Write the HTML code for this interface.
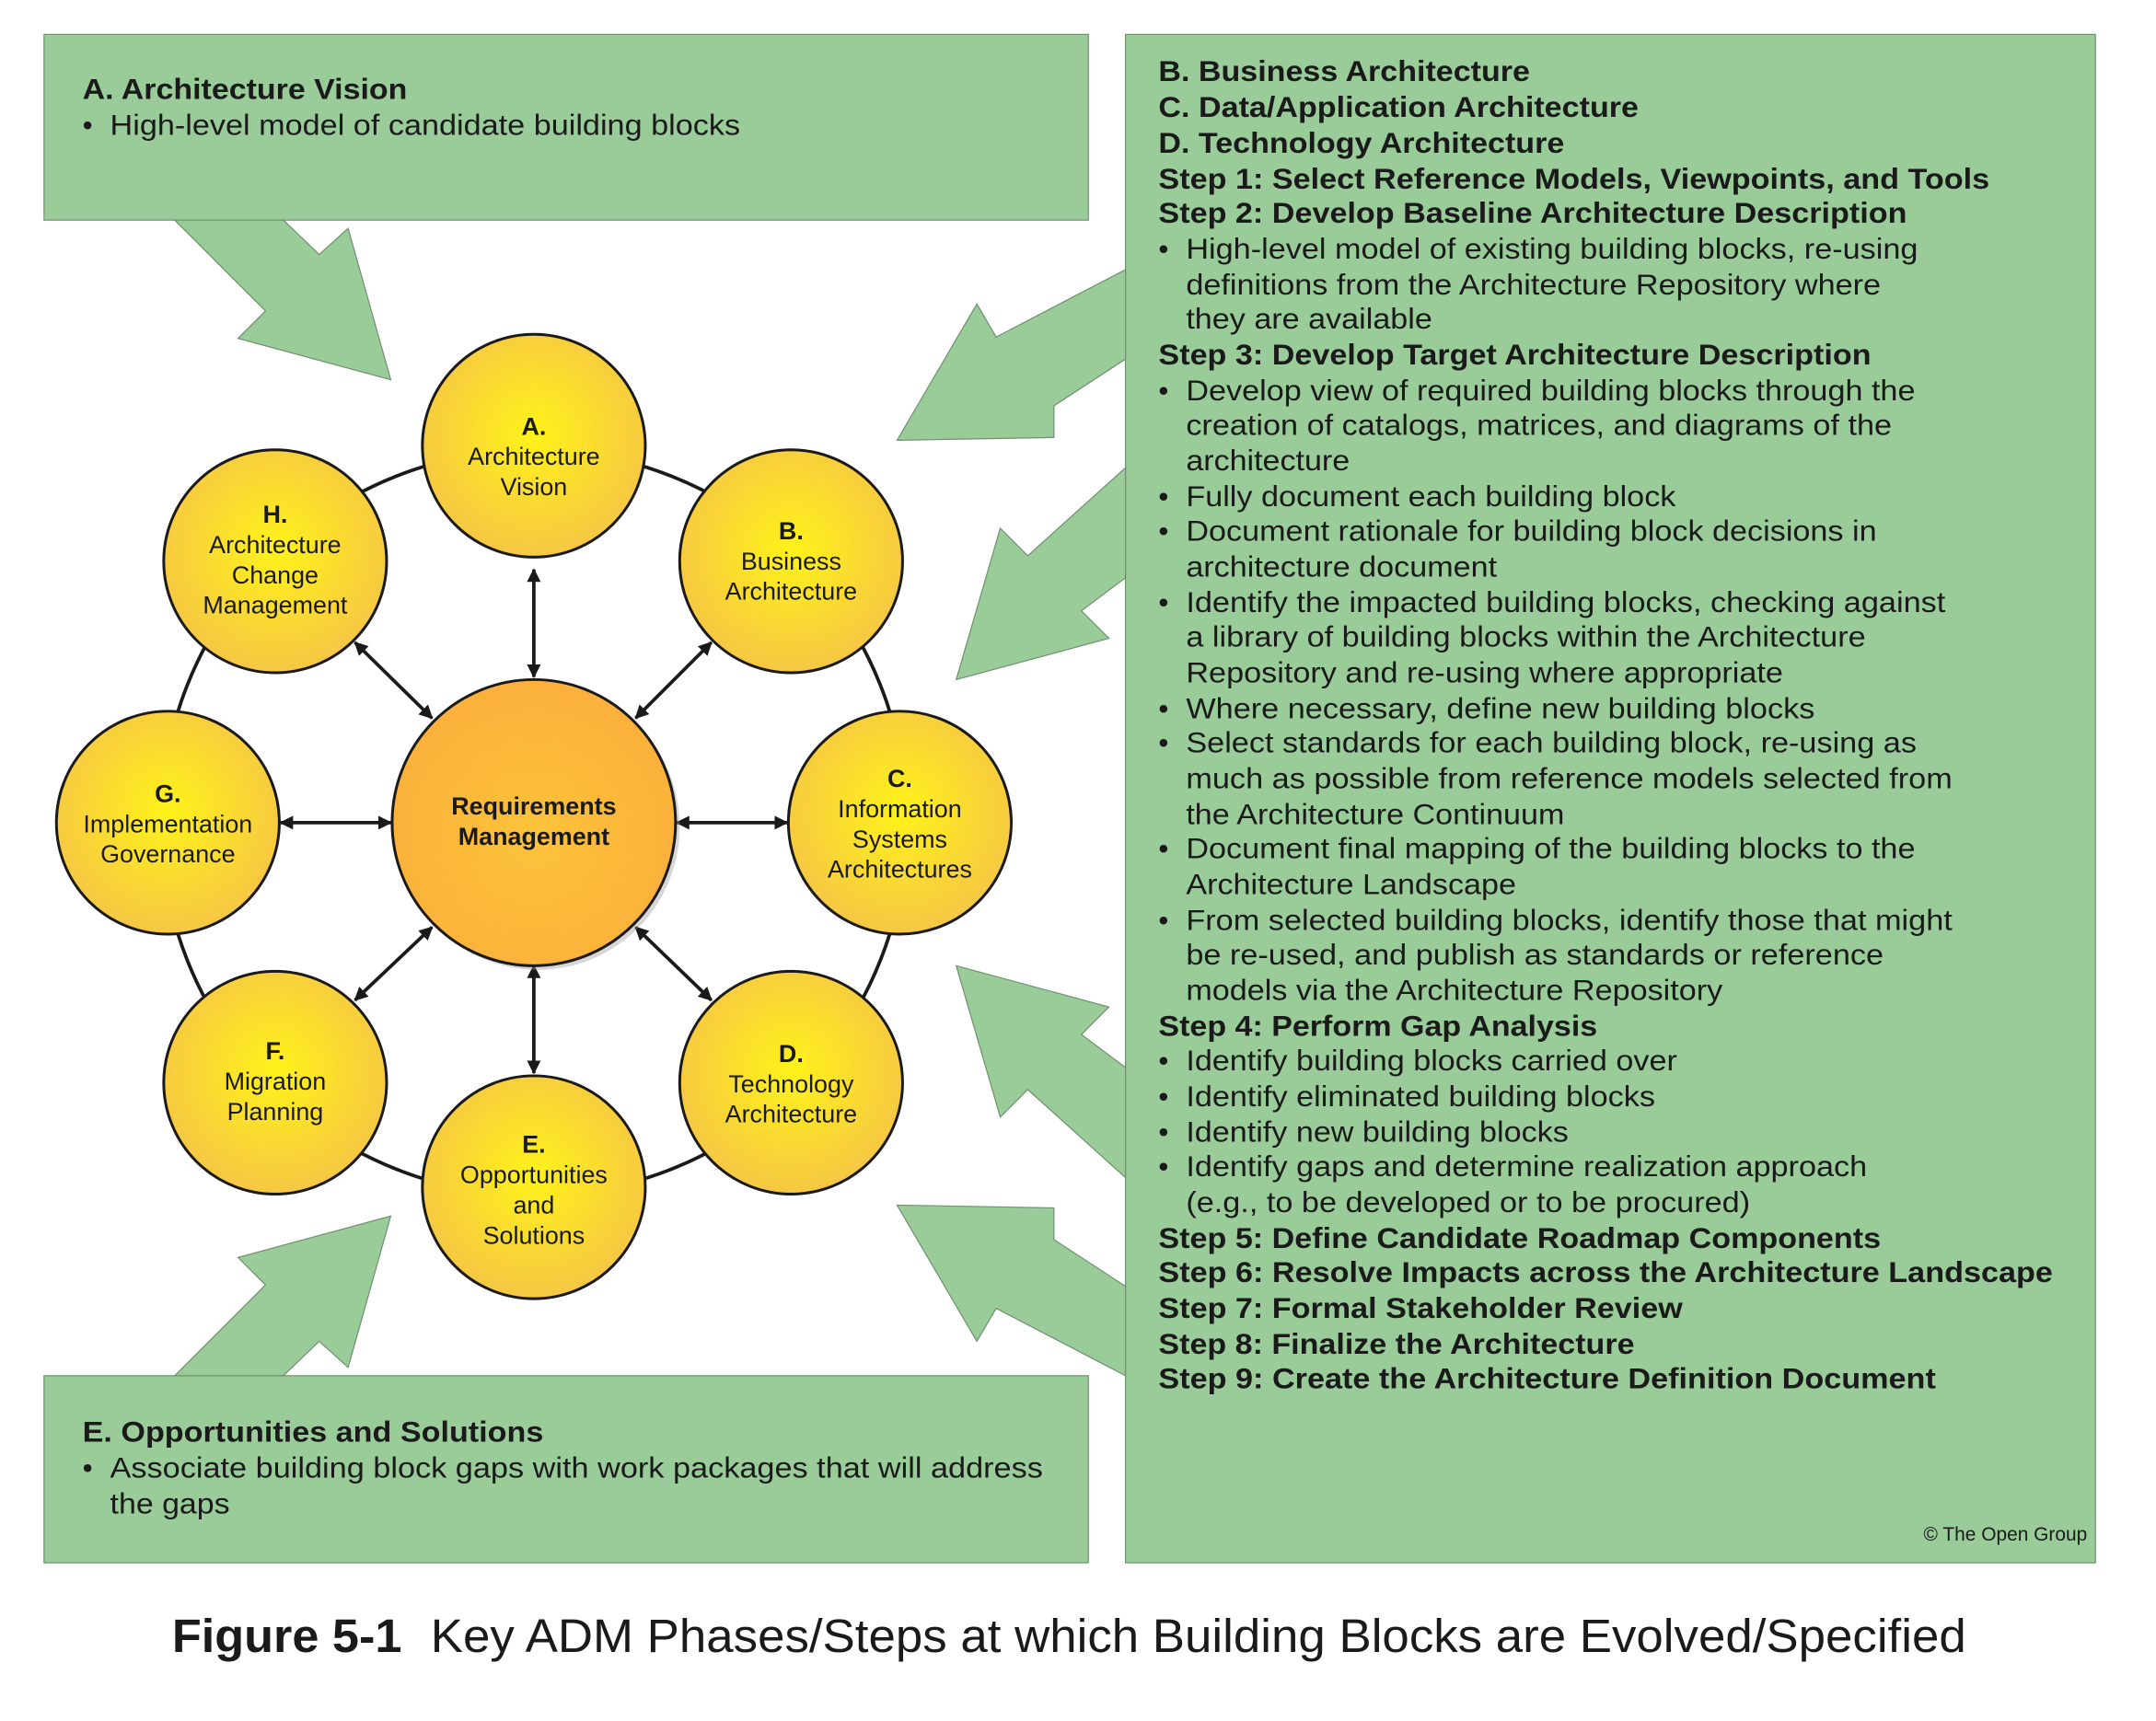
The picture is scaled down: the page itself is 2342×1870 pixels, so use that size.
<!DOCTYPE html>
<html><head><meta charset="utf-8"><style>
html,body{margin:0;padding:0;background:#fff}
svg{display:block}
text{font-family:"Liberation Sans",Arial,sans-serif;fill:#1a1a1a}
.b{font-weight:bold}
</style></head><body>
<svg width="2342" height="1870" viewBox="0 0 1567 1251" preserveAspectRatio="none" xmlns="http://www.w3.org/2000/svg" font-family="Liberation Sans, Arial, sans-serif">
<defs>
<radialGradient id="y" cx="50%" cy="45%" r="55%"><stop offset="0" stop-color="#fff21a"/><stop offset="1" stop-color="#f6c744"/></radialGradient>
<radialGradient id="o" cx="50%" cy="55%" r="55%"><stop offset="0" stop-color="#fdc33a"/><stop offset="1" stop-color="#fbb03b"/></radialGradient>
<marker id="ah" markerWidth="10" markerHeight="10" refX="9" refY="5" orient="auto-start-reverse" markerUnits="userSpaceOnUse"><path d="M0,0 L10,5 L0,10 z" fill="#1a1a1a"/></marker>
</defs>
<g fill="#99cc99" stroke="#6f8f6f" stroke-width="0.8">
<rect x="32" y="25" width="759" height="135"/>
<rect x="818" y="25" width="705" height="1111"/>
<rect x="32" y="1000" width="759" height="136"/>
<polygon points="127,160 206,160 232,185 253,166 284,276 173,246 193,226"/>
<polygon points="818,196 818,261 766,295 766,318 652,320 710,221 724,245"/>
<polygon points="818,340 818,420 786,444 806,464 695,494 727,384 747,404"/>
<polygon points="818,856 818,776 786,752 806,732 695,702 727,812 747,792"/>
<polygon points="818,1000 818,935 766,901 766,878 652,876 710,975 724,951"/>
<polygon points="127,1000 206,1000 232,975 253,994 284,884 173,914 193,934"/>
</g>
<circle cx="388" cy="598" r="271" fill="none" stroke="#1a1a1a" stroke-width="2.5"/>
<g stroke="#1a1a1a" stroke-width="2.5" marker-start="url(#ah)" marker-end="url(#ah)">
<line x1="388" y1="414" x2="388" y2="492"/>
<line x1="517" y1="467" x2="462" y2="522"/>
<line x1="258" y1="467" x2="314" y2="522"/>
<line x1="204" y1="598" x2="284" y2="598"/>
<line x1="492" y1="598" x2="572" y2="598"/>
<line x1="462" y1="674" x2="517" y2="727"/>
<line x1="314" y1="674" x2="258" y2="727"/>
<line x1="388" y1="702" x2="388" y2="780"/>
</g>
<g stroke="#1a1a1a" stroke-width="2">
<ellipse cx="391" cy="601" rx="103" ry="104" fill="#9a9a9a" opacity="0.4" stroke="none"/>
<ellipse cx="388" cy="598" rx="103" ry="104" fill="url(#o)"/>
<g fill="url(#y)">
<ellipse cx="388" cy="324" rx="81" ry="81"/>
<ellipse cx="575" cy="408" rx="81" ry="81"/>
<ellipse cx="200" cy="408" rx="81" ry="81"/>
<ellipse cx="654" cy="598" rx="81" ry="81"/>
<ellipse cx="122" cy="598" rx="81" ry="81"/>
<ellipse cx="575" cy="787" rx="81" ry="81"/>
<ellipse cx="200" cy="787" rx="81" ry="81"/>
<ellipse cx="388" cy="863" rx="81" ry="81"/>
</g></g>
<g font-size="18" text-anchor="middle">
<text x="388" y="316" class="b">A.</text><text x="388" y="338">Architecture</text><text x="388" y="360">Vision</text>
<text x="575" y="392" class="b">B.</text><text x="575" y="414">Business</text><text x="575" y="436">Architecture</text>
<text x="200" y="380" class="b">H.</text><text x="200" y="402">Architecture</text><text x="200" y="424">Change</text><text x="200" y="446">Management</text>
<text x="654" y="572" class="b">C.</text><text x="654" y="594">Information</text><text x="654" y="616">Systems</text><text x="654" y="638">Architectures</text>
<text x="122" y="583" class="b">G.</text><text x="122" y="605">Implementation</text><text x="122" y="627">Governance</text>
<text x="575" y="772" class="b">D.</text><text x="575" y="794">Technology</text><text x="575" y="816">Architecture</text>
<text x="200" y="770" class="b">F.</text><text x="200" y="792">Migration</text><text x="200" y="814">Planning</text>
<text x="388" y="838" class="b">E.</text><text x="388" y="860">Opportunities</text><text x="388" y="882">and</text><text x="388" y="904">Solutions</text>
<text x="388" y="592" class="b">Requirements</text><text x="388" y="614" class="b">Management</text>
</g>
<g font-size="21">
<text x="60" y="72" class="b" textLength="236" lengthAdjust="spacingAndGlyphs">A. Architecture Vision</text>
<text x="60" y="98">•</text><text x="80" y="98" textLength="458" lengthAdjust="spacingAndGlyphs">High-level model of candidate building blocks</text>
<text x="60" y="1048" class="b" textLength="335" lengthAdjust="spacingAndGlyphs">E. Opportunities and Solutions</text>
<text x="60" y="1074">•</text><text x="80" y="1074" textLength="678" lengthAdjust="spacingAndGlyphs">Associate building block gaps with work packages that will address</text>
<text x="80" y="1100" textLength="87" lengthAdjust="spacingAndGlyphs">the gaps</text>
</g>
<g font-size="21">
<text x="842" y="59" class="b" textLength="270" lengthAdjust="spacingAndGlyphs">B. Business Architecture</text>
<text x="842" y="85" class="b" textLength="349" lengthAdjust="spacingAndGlyphs">C. Data/Application Architecture</text>
<text x="842" y="111" class="b" textLength="295" lengthAdjust="spacingAndGlyphs">D. Technology Architecture</text>
<text x="842" y="137" class="b" textLength="604" lengthAdjust="spacingAndGlyphs">Step 1: Select Reference Models, Viewpoints, and Tools</text>
<text x="842" y="162" class="b" textLength="544" lengthAdjust="spacingAndGlyphs">Step 2: Develop Baseline Architecture Description</text>
<text x="842" y="188">•</text><text x="862" y="188" textLength="532" lengthAdjust="spacingAndGlyphs">High-level model of existing building blocks, re-using</text>
<text x="862" y="214" textLength="505" lengthAdjust="spacingAndGlyphs">definitions from the Architecture Repository where</text>
<text x="862" y="239" textLength="179" lengthAdjust="spacingAndGlyphs">they are available</text>
<text x="842" y="265" class="b" textLength="518" lengthAdjust="spacingAndGlyphs">Step 3: Develop Target Architecture Description</text>
<text x="842" y="291">•</text><text x="862" y="291" textLength="530" lengthAdjust="spacingAndGlyphs">Develop view of required building blocks through the</text>
<text x="862" y="316" textLength="513" lengthAdjust="spacingAndGlyphs">creation of catalogs, matrices, and diagrams of the</text>
<text x="862" y="342" textLength="119" lengthAdjust="spacingAndGlyphs">architecture</text>
<text x="842" y="368">•</text><text x="862" y="368" textLength="356" lengthAdjust="spacingAndGlyphs">Fully document each building block</text>
<text x="842" y="393">•</text><text x="862" y="393" textLength="502" lengthAdjust="spacingAndGlyphs">Document rationale for building block decisions in</text>
<text x="862" y="419" textLength="226" lengthAdjust="spacingAndGlyphs">architecture document</text>
<text x="842" y="445">•</text><text x="862" y="445" textLength="552" lengthAdjust="spacingAndGlyphs">Identify the impacted building blocks, checking against</text>
<text x="862" y="470" textLength="494" lengthAdjust="spacingAndGlyphs">a library of building blocks within the Architecture</text>
<text x="862" y="496" textLength="434" lengthAdjust="spacingAndGlyphs">Repository and re-using where appropriate</text>
<text x="842" y="522">•</text><text x="862" y="522" textLength="457" lengthAdjust="spacingAndGlyphs">Where necessary, define new building blocks</text>
<text x="842" y="547">•</text><text x="862" y="547" textLength="531" lengthAdjust="spacingAndGlyphs">Select standards for each building block, re-using as</text>
<text x="862" y="573" textLength="557" lengthAdjust="spacingAndGlyphs">much as possible from reference models selected from</text>
<text x="862" y="599" textLength="275" lengthAdjust="spacingAndGlyphs">the Architecture Continuum</text>
<text x="842" y="624">•</text><text x="862" y="624" textLength="530" lengthAdjust="spacingAndGlyphs">Document final mapping of the building blocks to the</text>
<text x="862" y="650" textLength="240" lengthAdjust="spacingAndGlyphs">Architecture Landscape</text>
<text x="842" y="676">•</text><text x="862" y="676" textLength="557" lengthAdjust="spacingAndGlyphs">From selected building blocks, identify those that might</text>
<text x="862" y="701" textLength="507" lengthAdjust="spacingAndGlyphs">be re-used, and publish as standards or reference</text>
<text x="862" y="727" textLength="390" lengthAdjust="spacingAndGlyphs">models via the Architecture Repository</text>
<text x="842" y="753" class="b" textLength="319" lengthAdjust="spacingAndGlyphs">Step 4: Perform Gap Analysis</text>
<text x="842" y="778">•</text><text x="862" y="778" textLength="357" lengthAdjust="spacingAndGlyphs">Identify building blocks carried over</text>
<text x="842" y="804">•</text><text x="862" y="804" textLength="341" lengthAdjust="spacingAndGlyphs">Identify eliminated building blocks</text>
<text x="842" y="830">•</text><text x="862" y="830" textLength="278" lengthAdjust="spacingAndGlyphs">Identify new building blocks</text>
<text x="842" y="855">•</text><text x="862" y="855" textLength="495" lengthAdjust="spacingAndGlyphs">Identify gaps and determine realization approach</text>
<text x="862" y="881" textLength="410" lengthAdjust="spacingAndGlyphs">(e.g., to be developed or to be procured)</text>
<text x="842" y="907" class="b" textLength="525" lengthAdjust="spacingAndGlyphs">Step 5: Define Candidate Roadmap Components</text>
<text x="842" y="932" class="b" textLength="650" lengthAdjust="spacingAndGlyphs">Step 6: Resolve Impacts across the Architecture Landscape</text>
<text x="842" y="958" class="b" textLength="381" lengthAdjust="spacingAndGlyphs">Step 7: Formal Stakeholder Review</text>
<text x="842" y="984" class="b" textLength="346" lengthAdjust="spacingAndGlyphs">Step 8: Finalize the Architecture</text>
<text x="842" y="1009" class="b" textLength="565" lengthAdjust="spacingAndGlyphs">Step 9: Create the Architecture Definition Document</text>
</g>
<text x="1517" y="1120" font-size="14" text-anchor="end" fill="#333">© The Open Group</text>
<text x="125" y="1201" font-size="34" class="b" textLength="167" lengthAdjust="spacingAndGlyphs">Figure 5-1</text>
<text x="313" y="1201" font-size="34" textLength="1116" lengthAdjust="spacingAndGlyphs">Key ADM Phases/Steps at which Building Blocks are Evolved/Specified</text>
</svg>
</body></html>
